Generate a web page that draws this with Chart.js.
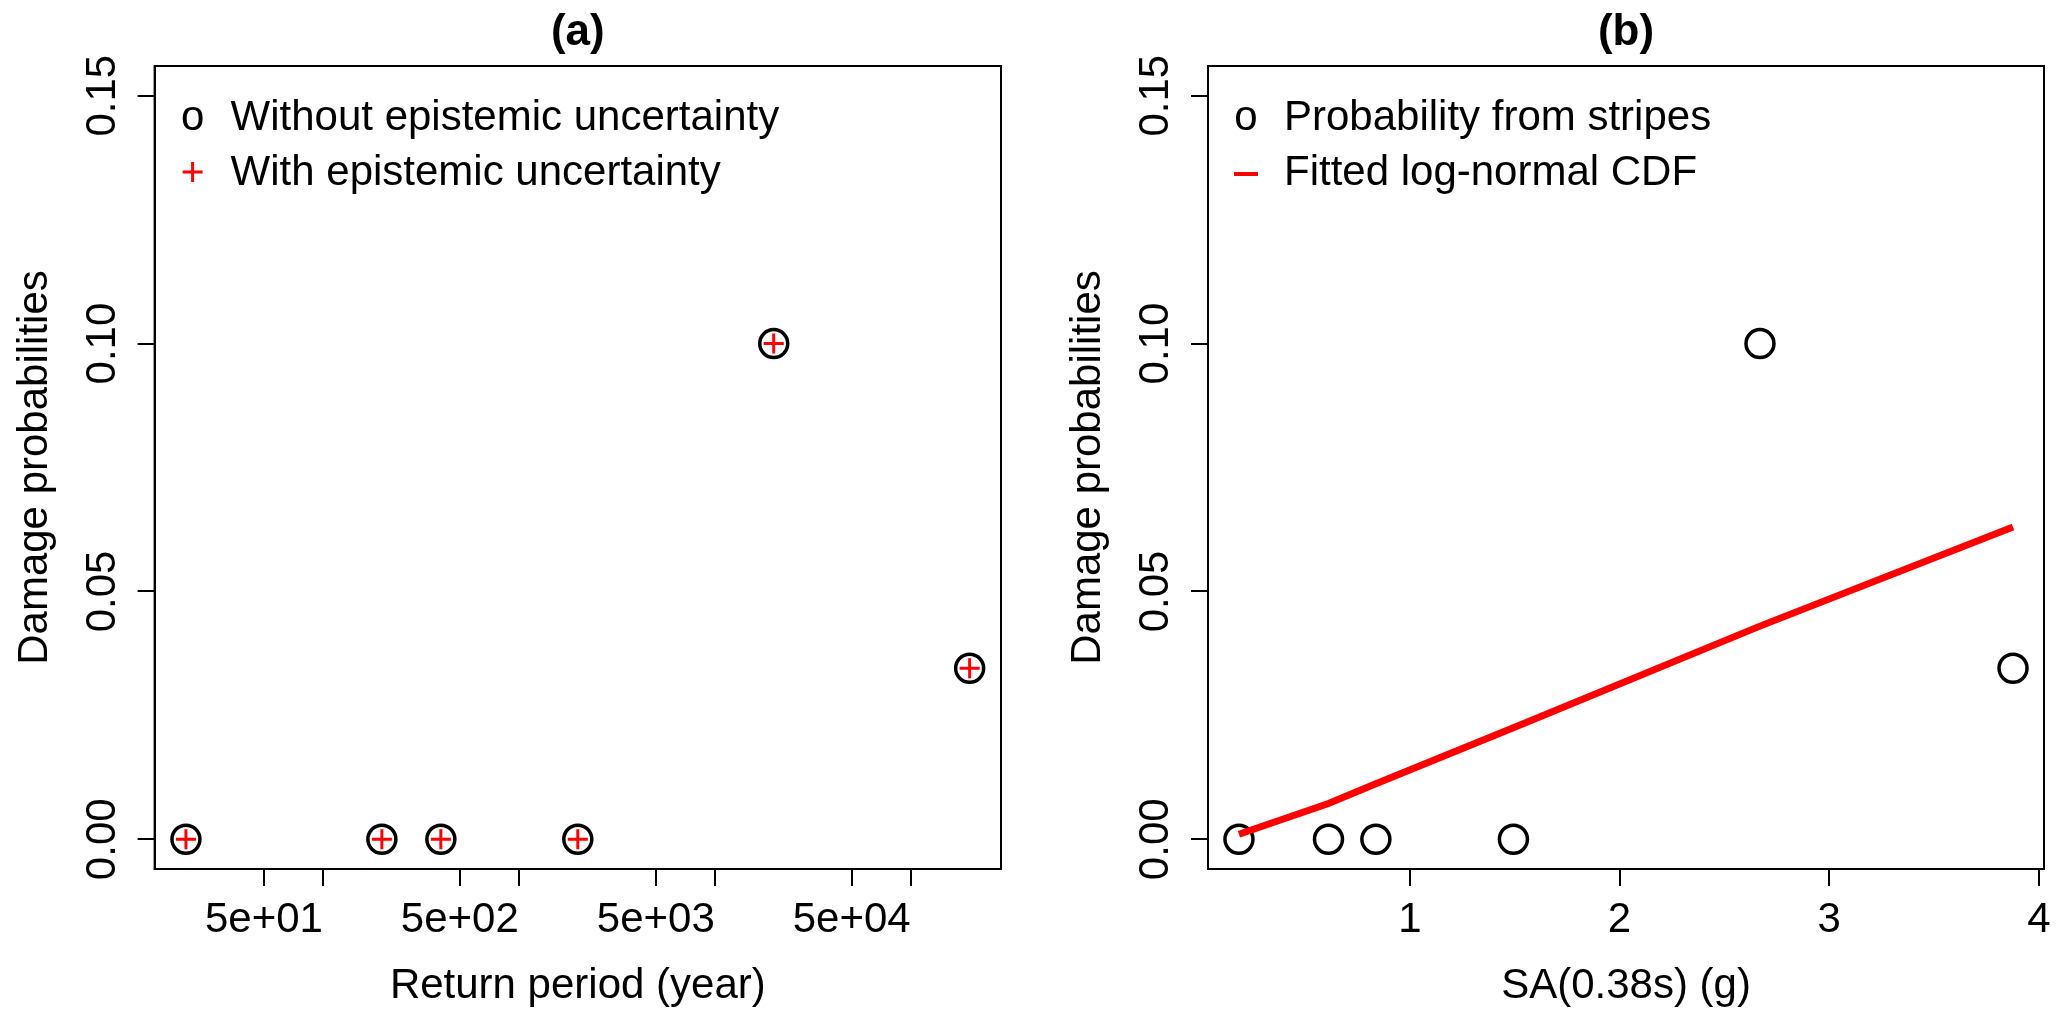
<!DOCTYPE html>
<html>
<head>
<meta charset="utf-8">
<script src="https://cdn.jsdelivr.net/npm/chart.js@4.4.1/dist/chart.umd.min.js"></script>
<style>
  html, body { margin: 0; padding: 0; background: #fff; }
  #wrap { position: relative; width: 2067px; height: 1024px; }
  canvas { position: absolute; top: 0; }
  #chartA { left: 0; }
  #chartB { left: 1034px; }
</style>
</head>
<body>
<div id="wrap">
  <canvas id="chartA" width="1034" height="1024"></canvas>
  <canvas id="chartB" width="1033" height="1024"></canvas>
</div>
<script>
// panel (a): damage probability against return period
const returnPeriods = [20, 200, 400, 2000, 20000, 200000];
const probWithout = [0, 0, 0, 0, 0.1, 0.0345];
const probWith = [0, 0, 0, 0, 0.1, 0.0345];

// panel (b): damage probability against SA
const saValues = [0.185, 0.612, 0.838, 1.494, 2.67, 3.877];
const probStripes = [0, 0, 0, 0, 0.1, 0.0345];
const fittedCdf = [0.001, 0.0072, 0.0112, 0.0225, 0.043, 0.063];

// ticks
const periodTicks = [50, 100, 500, 1000, 5000, 10000, 50000, 100000];
const periodTickLabels = ['5e+01', '', '5e+02', '', '5e+03', '', '5e+04', ''];
const saTicks = [1, 2, 3, 4];
const saTickLabels = ['1', '2', '3', '4'];
const probTicks = [0, 0.05, 0.10, 0.15];
const probTickLabels = ['0.00', '0.05', '0.10', '0.15'];

const FONT = '"Liberation Sans", Arial, Helvetica, sans-serif';

// R style axis range: data range plus 4% each side
const rRange = (lo, hi) => { const d = (hi - lo) * 0.04; return [lo - d, hi + d]; };
const logA = rRange(Math.log10(Math.min(...returnPeriods)), Math.log10(Math.max(...returnPeriods)));
const saR = rRange(Math.min(...saValues), Math.max(...saValues));
const probR = rRange(0, 0.15);

const pts = (xs, ys) => xs.map((v, i) => ({ x: v, y: ys[i] }));

const decor = {
  id: 'decor',
  afterDraw(chart, args, o) {
    const { ctx, chartArea: a, scales: { x, y } } = chart;
    ctx.save();
    ctx.strokeStyle = '#000';
    ctx.lineWidth = 2;
    ctx.strokeRect(a.left, a.top, a.right - a.left, a.bottom - a.top);

    ctx.fillStyle = '#000';
    ctx.font = '42px ' + FONT;
    ctx.textAlign = 'center';
    ctx.textBaseline = 'alphabetic';
    o.xTicks.forEach((v, i) => {
      if (o.xLabels[i]) ctx.fillText(o.xLabels[i], x.getPixelForValue(v), 932);
    });
    ctx.fillText(o.xTitle, (a.left + a.right) / 2, 998);

    probTicks.forEach((v, i) => {
      ctx.save();
      ctx.translate(a.left - 40, y.getPixelForValue(v));
      ctx.rotate(-Math.PI / 2);
      ctx.fillText(probTickLabels[i], 0, 0);
      ctx.restore();
    });
    ctx.save();
    ctx.translate(a.left - 108, (a.top + a.bottom) / 2);
    ctx.rotate(-Math.PI / 2);
    ctx.fillText('Damage probabilities', 0, 0);
    ctx.restore();

    ctx.font = 'bold 44px ' + FONT;
    ctx.fillText(o.title, (a.left + a.right) / 2, 45);

    // legend
    ctx.font = '42px ' + FONT;
    const sx = a.left + 38, tx = a.left + 76;
    ctx.textAlign = 'center';
    ctx.fillText('o', sx, 130);
    ctx.strokeStyle = '#ff0000';
    if (o.second === 'plus') {
      ctx.lineWidth = 3;
      ctx.beginPath();
      ctx.moveTo(sx - 10, 172); ctx.lineTo(sx + 10, 172);
      ctx.moveTo(sx, 162); ctx.lineTo(sx, 182);
      ctx.stroke();
    } else {
      ctx.lineWidth = 4;
      ctx.beginPath();
      ctx.moveTo(sx - 12, 174); ctx.lineTo(sx + 12, 174);
      ctx.stroke();
    }
    ctx.textAlign = 'left';
    ctx.fillText(o.leg[0], tx, 130);
    ctx.fillText(o.leg[1], tx, 185);
    ctx.restore();
  }
};

function axisOpts(extra) {
  return Object.assign({
    grid: { drawOnChartArea: false, drawTicks: true, tickLength: 17, color: '#000', lineWidth: 2 },
    border: { display: true, color: '#000', width: 2 },
    ticks: { display: false }
  }, extra);
}

function makeChart(id, cfg) {
  return new Chart(document.getElementById(id), {
    type: 'scatter',
    data: { datasets: cfg.datasets },
    options: {
      responsive: false,
      devicePixelRatio: 1,
      animation: false,
      events: [],
      layout: { padding: { left: 0, top: 66, right: cfg.padRight, bottom: 0 } },
      plugins: { legend: { display: false }, tooltip: { enabled: false }, decor: cfg.decor },
      scales: {
        x: axisOpts(Object.assign({
          position: 'bottom',
          afterBuildTicks: s => { s.ticks = cfg.decor.xTicks.map(v => ({ value: v })); },
          afterFit: s => { s.height = 155; }
        }, cfg.x)),
        y: axisOpts({
          type: 'linear',
          position: 'left',
          min: probR[0], max: probR[1],
          afterBuildTicks: s => { s.ticks = probTicks.map(v => ({ value: v })); },
          afterFit: s => { s.width = cfg.yWidth; }
        })
      }
    },
    plugins: [decor]
  });
}

makeChart('chartA', {
  padRight: 33,
  yWidth: 154.6,
  x: { type: 'logarithmic', min: Math.pow(10, logA[0]), max: Math.pow(10, logA[1]) },
  datasets: [
    {
      label: 'With epistemic uncertainty',
      data: pts(returnPeriods, probWith),
      pointStyle: 'cross', pointRadius: 10, borderColor: '#ff0000', borderWidth: 3,
      order: 0
    },
    {
      label: 'Without epistemic uncertainty',
      data: pts(returnPeriods, probWithout),
      pointStyle: 'circle', pointRadius: 14, borderColor: '#000', borderWidth: 3.5,
      backgroundColor: 'rgba(0,0,0,0)',
      order: 1
    }
  ],
  decor: {
    title: '(a)', xTitle: 'Return period (year)',
    xTicks: periodTicks, xLabels: periodTickLabels,
    leg: ['Without epistemic uncertainty', 'With epistemic uncertainty'], second: 'plus'
  }
});

makeChart('chartB', {
  padRight: 23,
  yWidth: 174,
  x: { type: 'linear', min: saR[0], max: saR[1] },
  datasets: [
    {
      label: 'Fitted log-normal CDF',
      data: pts(saValues, fittedCdf),
      showLine: true, borderColor: '#ff0000', borderWidth: 7, pointRadius: 0,
      tension: 0, fill: false,
      order: 0
    },
    {
      label: 'Probability from stripes',
      data: pts(saValues, probStripes),
      pointStyle: 'circle', pointRadius: 14, borderColor: '#000', borderWidth: 3.5,
      backgroundColor: 'rgba(0,0,0,0)',
      order: 1
    }
  ],
  decor: {
    title: '(b)', xTitle: 'SA(0.38s) (g)',
    xTicks: saTicks, xLabels: saTickLabels,
    leg: ['Probability from stripes', 'Fitted log-normal CDF'], second: 'line'
  }
});
</script>
</body>
</html>
